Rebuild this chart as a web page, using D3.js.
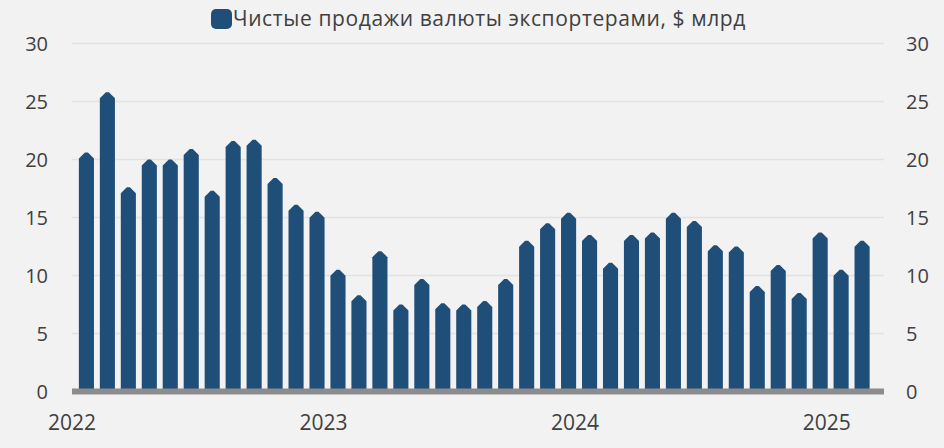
<!DOCTYPE html>
<head>
  <meta charset="utf-8">
  <script src="https://d3js.org/d3.v7.min.js"></script>
  <style>
    body { margin:0; background:#f2f2f2; font-family:"Open Sans", sans-serif; }
    text { fill:#404040; }
  </style>
</head>
<body>
<script>
  // месяцы янв 2022 - фев 2025
  var months = d3.range(38).map(function(i){ return new Date(2022, i, 1); });
  var values = [20.6, 25.8, 17.6, 20.0, 20.0, 20.9, 17.3, 21.6, 21.7, 18.4, 16.1, 15.5,
                10.5, 8.3, 12.1, 7.5, 9.7, 7.6, 7.5, 7.8, 9.7, 13.0, 14.5, 15.4,
                13.5, 11.1, 13.5, 13.7, 15.4, 14.7, 12.6, 12.5, 9.1, 10.9, 8.5, 13.7,
                10.5, 13.0];
  var yTicks = [0, 5, 10, 15, 20, 25, 30];
  var yearLabels = ["2022", "2023", "2024", "2025"];
  var seriesName = "Чистые продажи валюты экспортерами, $ млрд";

  var width = 944, height = 448;
  var color = "#1f4e79";

  var svg = d3.select("body").append("svg")
    .attr("width", width)
    .attr("height", height);

  var x = d3.scaleBand()
    .domain(d3.range(months.length))
    .range([73, 875.5])
    .padding(0.28);

  var y = d3.scaleLinear()
    .domain([0, 30])
    .range([391.5, 43.5]);

  // сетка
  svg.selectAll(".grid")
    .data(yTicks.slice(1))
    .enter().append("line")
    .attr("class", "grid")
    .attr("x1", 72).attr("x2", 884)
    .attr("y1", function(d){ return y(d); })
    .attr("y2", function(d){ return y(d); })
    .style("stroke", "#e2e2e2")
    .style("stroke-width", 1.5);

  // столбцы со скошенным верхом
  var bw = x.bandwidth(), c = 6;
  svg.selectAll(".bar")
    .data(values)
    .enter().append("path")
    .attr("class", "bar")
    .style("fill", color)
    .attr("d", function(d, i){
      var x0 = x(i), x1 = x0 + bw, top = y(d), base = y(0);
      var mid = x0 + bw / 2;
      return "M" + x0 + "," + base +
             "L" + x0 + "," + (top + c) +
             "L" + (mid - 1.5) + "," + top +
             "L" + (mid + 1.5) + "," + top +
             "L" + x1 + "," + (top + c) +
             "L" + x1 + "," + base + "Z";
    });

  // ось X
  svg.append("line")
    .attr("x1", 72).attr("x2", 884)
    .attr("y1", y(0)).attr("y2", y(0))
    .style("stroke", "#8c8c8c")
    .style("stroke-width", 6);

  svg.selectAll(".year")
    .data(yearLabels)
    .enter().append("text")
    .attr("class", "year")
    .attr("x", function(d, i){ return x(i * 12) - x.step() * 0.33; })
    .attr("y", 430)
    .attr("text-anchor", "middle")
    .style("font-size", "21px")
    .text(function(d){ return d; });

  // оси Y слева и справа
  svg.selectAll(".yl")
    .data(yTicks)
    .enter().append("text")
    .attr("class", "yl")
    .attr("x", 48)
    .attr("y", function(d){ return y(d); })
    .attr("dy", "0.35em")
    .attr("text-anchor", "end")
    .style("font-size", "20px")
    .text(function(d){ return d; });

  svg.selectAll(".yr")
    .data(yTicks)
    .enter().append("text")
    .attr("class", "yr")
    .attr("x", 906)
    .attr("y", function(d){ return y(d); })
    .attr("dy", "0.35em")
    .attr("text-anchor", "start")
    .style("font-size", "20px")
    .text(function(d){ return d; });

  // легенда
  var legend = svg.append("g").attr("transform", "translate(211,9)");
  legend.append("rect")
    .attr("width", 21).attr("height", 20)
    .attr("rx", 5)
    .style("fill", color);
  legend.append("text")
    .attr("x", 22)
    .attr("y", 10)
    .attr("dy", "0.35em")
    .style("font-size", "21px")
    .style("letter-spacing", "0.6px")
    .text(seriesName);
</script>
</body>
